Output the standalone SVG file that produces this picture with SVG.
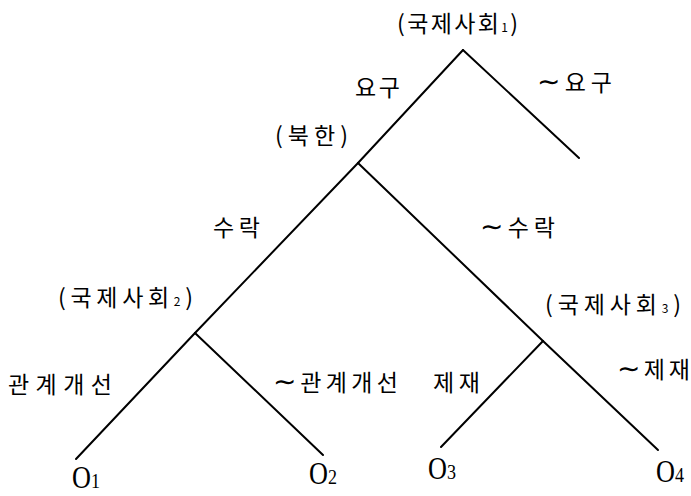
<svg xmlns="http://www.w3.org/2000/svg" width="691" height="496" viewBox="0 0 691 496">
<style>
.k{font-family:"Noto Sans CJK KR","Noto Sans",sans-serif;font-size:23px;fill:#000}
.t{font-size:28px}
.o{font-family:"Liberation Serif",serif;font-size:32px;fill:#000}
.sub{font-size:12px}
.d{font-size:22px}
.e{stroke:#000;stroke-width:2;fill:none;stroke-linecap:round}
</style>
<rect width="691" height="496" fill="#fff"/>
<g id="connectors">
<line class="e" x1="463" y1="50" x2="579" y2="158"/>
<line class="e" x1="463" y1="50" x2="358" y2="163"/>
<line class="e" x1="358" y1="163" x2="195" y2="333"/>
<line class="e" x1="195" y1="333" x2="76" y2="459"/>
<line class="e" x1="195" y1="333" x2="323" y2="455"/>
<line class="e" x1="358" y1="163" x2="543" y2="341"/>
<line class="e" x1="543" y1="341" x2="658" y2="450"/>
<line class="e" x1="543" y1="341" x2="441" y2="447"/>
</g>
<g id="edge-labels">
<text class="k" x="355" y="96" textLength="45" lengthAdjust="spacing">요구</text>
<text class="k" x="537" y="91" textLength="75" lengthAdjust="spacing"><tspan class="t">∼</tspan>요구</text>
<text class="k" x="213" y="236" textLength="47" lengthAdjust="spacing">수락</text>
<text class="k" x="480" y="236" textLength="75" lengthAdjust="spacing"><tspan class="t">∼</tspan>수락</text>
<text class="k" x="8" y="393" textLength="104" lengthAdjust="spacing">관계개선</text>
<text class="k" x="273" y="391" textLength="125" lengthAdjust="spacing"><tspan class="t">∼</tspan>관계개선</text>
<text class="k" x="433" y="391" textLength="47" lengthAdjust="spacing">제재</text>
<text class="k" x="617" y="378" textLength="73" lengthAdjust="spacing"><tspan class="t">∼</tspan>제재</text>
</g>
<g id="node-society1"><text class="k" x="397" y="32" textLength="121" lengthAdjust="spacing">(국제사회<tspan class="sub">1</tspan>)</text></g>
<g id="node-nk"><text class="k" x="275" y="144" textLength="73" lengthAdjust="spacing">(북한)</text></g>
<g id="node-society2"><text class="k" x="58" y="306" textLength="135" lengthAdjust="spacing">(국제사회<tspan class="sub">2</tspan>)</text></g>
<g id="node-society3"><text class="k" x="545" y="313" textLength="136" lengthAdjust="spacing">(국제사회<tspan class="sub">3</tspan>)</text></g>
<g id="leaf-o1"><text class="o" transform="translate(72 488) scale(0.82 1)">O<tspan class="d">1</tspan></text></g>
<g id="leaf-o2"><text class="o" transform="translate(309 484) scale(0.82 1)">O<tspan class="d">2</tspan></text></g>
<g id="leaf-o3"><text class="o" transform="translate(428 479) scale(0.82 1)">O<tspan class="d">3</tspan></text></g>
<g id="leaf-o4"><text class="o" transform="translate(656 482) scale(0.82 1)">O<tspan class="d">4</tspan></text></g>
</svg>
